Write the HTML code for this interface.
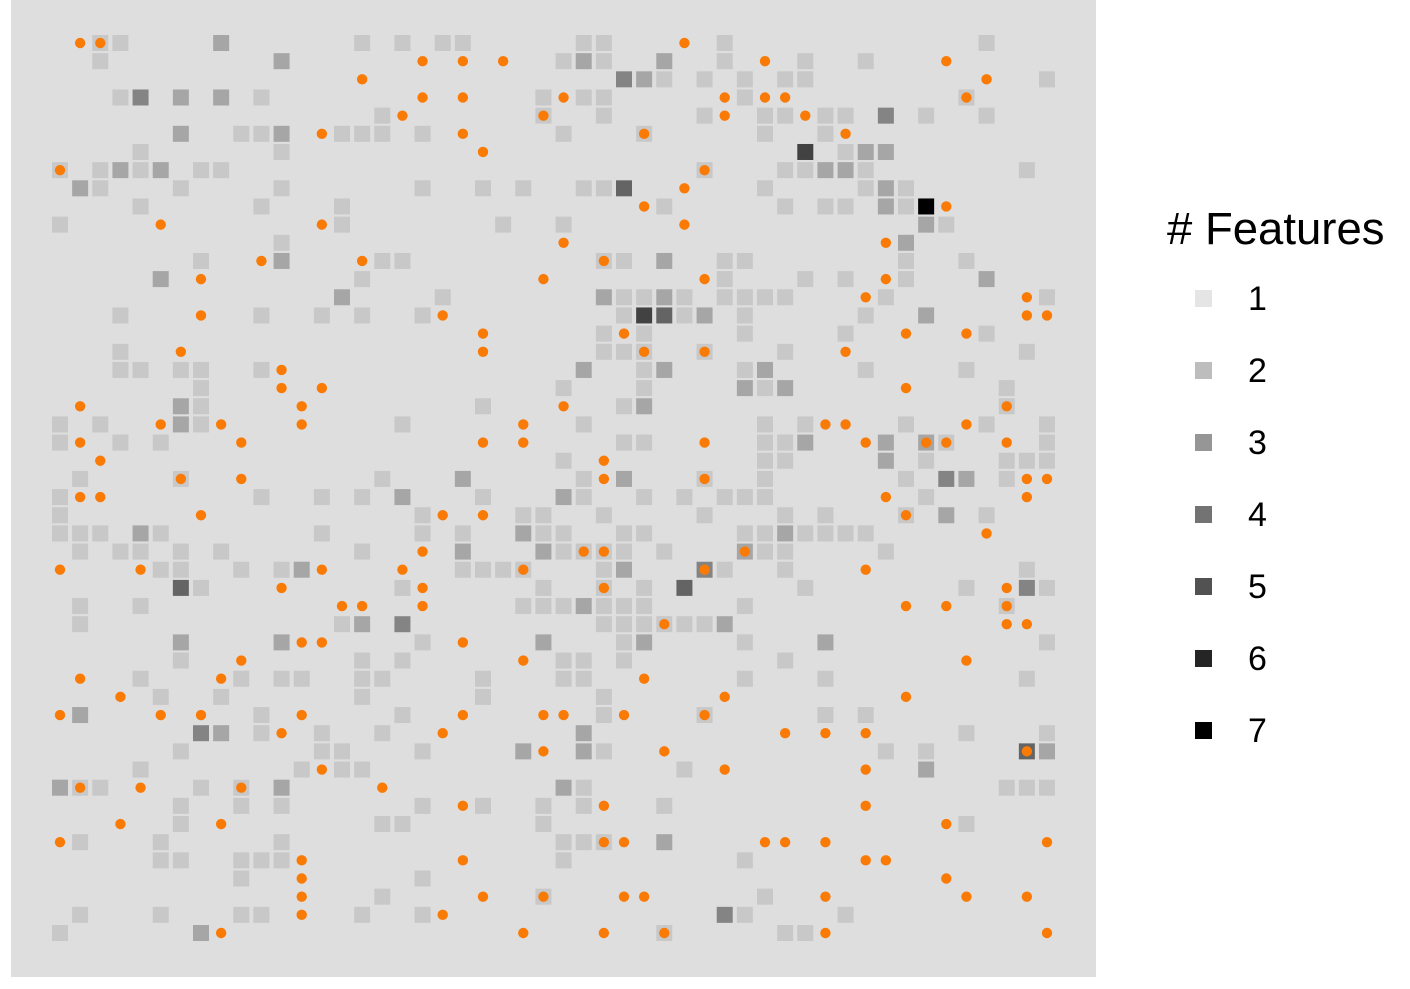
<!DOCTYPE html>
<html><head><meta charset="utf-8">
<style>
html,body{margin:0;padding:0;background:#fff;}
svg{display:block;font-family:"Liberation Sans",Arial,sans-serif;}
</style></head>
<body>
<svg id="chart" width="1410" height="989" viewBox="0 0 1410 989">
  <rect x="11" y="0" width="1085" height="977" fill="#dedede"/>
  <g id="cells"></g>
  <g id="points"></g>
  <g id="legend">
    <text x="1167" y="244" font-size="45.5" fill="#000"># Features</text>
  </g>
</svg>
<script>
// Squares, one row per line: [row, [col, level, col, level, ...]]
const squareRows = [
[0,[2,2,3,2,8,3,15,2,17,2,19,2,20,2,26,2,27,2,33,2,46,2]],
[1,[2,2,11,3,25,2,26,3,27,2,30,3,33,2,37,2,40,2]],
[2,[28,4,29,3,30,2,32,2,34,2,36,2,37,2,49,2]],
[3,[3,2,4,4,6,3,8,3,10,2,24,2,26,2,27,2,34,2,45,2]],
[4,[16,2,24,2,27,2,32,2,35,2,36,2,38,2,39,2,41,4,43,2,46,2]],
[5,[6,3,9,2,10,2,11,3,14,2,15,2,16,2,18,2,25,2,29,2,35,2,38,2]],
[6,[4,2,11,2,37,6,39,2,40,3,41,3]],
[7,[0,2,2,2,3,3,4,2,5,3,7,2,8,2,32,2,36,2,37,2,38,3,39,3,40,2,48,2]],
[8,[1,3,2,2,6,2,11,2,18,2,21,2,23,2,26,2,27,2,28,5,35,2,40,2,41,3,42,2]],
[9,[4,2,10,2,14,2,30,2,36,2,38,2,39,2,41,3,42,2,43,7]],
[10,[0,2,14,2,22,2,25,2,43,3,44,2]],
[11,[11,2,42,3]],
[12,[7,2,11,3,16,2,17,2,27,2,28,2,30,3,33,2,34,2,42,2,45,2]],
[13,[5,3,15,2,33,2,37,2,39,2,42,2,46,3]],
[14,[14,3,19,2,27,3,28,2,29,2,30,3,31,2,33,2,34,2,35,2,36,2,41,2,49,2]],
[15,[3,2,10,2,13,2,15,2,18,2,28,2,29,6,30,5,31,2,32,3,34,2,40,2,43,3]],
[16,[27,2,29,2,34,2,39,2,46,2]],
[17,[3,2,27,2,28,2,29,2,32,2,36,2,48,2]],
[18,[3,2,4,2,6,2,7,2,10,2,26,3,29,2,30,3,34,2,35,3,40,2,45,2]],
[19,[7,2,25,2,29,2,34,3,35,2,36,3,47,2]],
[20,[6,3,7,2,21,2,28,2,29,3,47,2]],
[21,[0,2,2,2,6,3,7,2,17,2,26,2,35,2,37,2,42,2,46,2,49,2]],
[22,[0,2,3,2,5,2,28,2,29,2,35,2,36,2,37,3,41,3,43,3,44,2,49,2]],
[23,[25,2,35,2,36,2,41,3,43,2,47,2,48,2,49,2]],
[24,[1,2,6,2,16,2,20,3,26,2,28,3,32,2,35,2,42,2,44,4,45,3,47,2]],
[25,[0,2,10,2,13,2,15,2,17,3,21,2,25,3,26,2,29,2,31,2,33,2,34,2,35,2,43,2]],
[26,[0,2,18,2,23,2,24,2,27,2,32,2,36,2,38,2,42,2,44,3,46,2]],
[27,[0,2,1,2,2,2,4,3,5,2,13,2,18,2,20,2,23,3,24,2,25,2,28,2,29,2,34,2,35,2,36,3,37,2,38,2,39,2,40,2]],
[28,[1,2,3,2,4,2,6,2,8,2,15,2,20,3,24,3,25,2,26,2,27,2,28,2,30,2,34,3,35,2,36,2,41,2]],
[29,[5,2,6,2,9,2,11,2,12,3,20,2,21,2,22,2,23,2,27,2,28,3,32,4,33,2,36,2,48,2]],
[30,[6,5,7,2,17,2,24,2,27,2,29,2,31,5,37,2,45,2,48,4,49,2]],
[31,[1,2,4,2,23,2,24,2,25,2,26,3,27,2,28,2,29,2,34,2,47,2]],
[32,[1,2,14,2,15,3,17,4,27,2,28,2,29,2,30,2,31,2,32,2,33,3]],
[33,[6,3,11,3,18,2,24,3,28,2,29,3,34,2,38,3,49,2]],
[34,[6,2,15,2,17,2,25,2,26,2,28,2,36,2]],
[35,[4,2,9,2,11,2,12,2,15,2,16,2,21,2,25,2,26,2,34,2,38,2,48,2]],
[36,[5,2,8,2,15,2,21,2,27,2]],
[37,[1,3,10,2,17,2,27,2,32,2,38,2,40,2]],
[38,[7,4,8,3,10,2,13,2,16,2,26,3,45,2,49,2]],
[39,[6,2,13,2,14,2,18,2,23,3,26,3,27,2,41,2,43,2,48,5,49,3]],
[40,[4,2,12,2,14,2,15,2,31,2,43,3]],
[41,[0,3,1,2,2,2,7,2,9,2,11,3,25,3,26,2,47,2,48,2,49,2]],
[42,[6,2,9,2,11,2,18,2,21,2,24,2,26,2,30,2]],
[43,[6,2,16,2,17,2,24,2,45,2]],
[44,[1,2,5,2,11,2,25,2,26,2,27,2,30,3]],
[45,[5,2,6,2,9,2,10,2,11,2,25,2,34,2]],
[46,[9,2,18,2]],
[47,[16,2,24,2,35,2]],
[48,[1,2,5,2,9,2,10,2,15,2,18,2,33,4,34,2,39,2]],
[49,[0,2,7,3,30,2,36,2,37,2]]
];
// Orange points, one row per line: [row, [cols...]]
const pointRows = [
[0,[1,2,31]],[1,[18,20,22,35,44]],[2,[15,46]],[3,[18,20,25,33,35,36,45]],
[4,[17,24,33,37]],[5,[13,20,29,39]],[6,[21]],[7,[0,32]],[8,[31]],[9,[29,44]],
[10,[5,13,31]],[11,[25,41]],[12,[10,15,27]],[13,[7,24,32,41]],[14,[40,48]],
[15,[7,19,48,49]],[16,[21,28,42,45]],[17,[6,21,29,32,39]],[18,[11]],[19,[11,13,42]],
[20,[1,12,25,47]],[21,[5,8,12,23,38,39,45]],[22,[1,9,21,23,32,40,43,44,47]],[23,[2,27]],
[24,[6,9,27,32,48,49]],[25,[1,2,41,48]],[26,[7,19,21,42]],[27,[46]],[28,[18,26,27,34]],
[29,[0,4,13,17,23,32,40]],[30,[11,18,27,47]],[31,[14,15,18,42,44,47]],[32,[30,47,48]],
[33,[12,13,20]],[34,[9,23,45]],[35,[1,8,29]],[36,[3,33,42]],[37,[0,5,7,12,20,24,25,28,32]],
[38,[11,19,36,38,40]],[39,[24,30,48]],[40,[13,33,40]],[41,[1,4,9,16]],[42,[20,27,40]],
[43,[3,8,44]],[44,[0,27,28,35,36,38,49]],[45,[12,20,40,41]],[46,[12,44]],
[47,[12,21,24,28,29,38,45,48]],[48,[12,19]],[49,[8,23,27,30,38,49]]
];
const legendLevels = [1,2,3,4,5,6,7];
const levelColors = ["#e5e5e5","#c8c8c8","#a6a6a6","#848484","#646464","#424242","#000000"];
const legendColors = ["#e5e5e5","#bdbdbd","#969696","#737373","#525252","#252525","#000000"];

const NS = "http://www.w3.org/2000/svg";
function xScale(c){ return 60 + (1047-60)*c/49; }
function yScale(r){ return 43 + (933-43)*r/49; }
const S = 16;

const cells = document.getElementById('cells');
squareRows.forEach(function(rr){
  const row = rr[0], arr = rr[1];
  for (let k=0;k<arr.length;k+=2){
    const col = arr[k], lvl = arr[k+1];
    const r = document.createElementNS(NS,'rect');
    r.setAttribute('x', (xScale(col)-S/2).toFixed(2));
    r.setAttribute('y', (yScale(row)-S/2).toFixed(2));
    r.setAttribute('width', S);
    r.setAttribute('height', S);
    r.setAttribute('fill', levelColors[lvl-1]);
    
    
    cells.appendChild(r);
  }
});

const pts = document.getElementById('points');
pointRows.forEach(function(pr){
  const row = pr[0];
  pr[1].forEach(function(col){
    const c = document.createElementNS(NS,'circle');
    c.setAttribute('cx', xScale(col).toFixed(2));
    c.setAttribute('cy', yScale(row).toFixed(2));
    c.setAttribute('r', 5.2);
    c.setAttribute('fill', '#fa7a06');
    
    
    pts.appendChild(c);
  });
});

const legend = document.getElementById('legend');
legendLevels.forEach(function(lv,i){
  const cy = 298 + 72*i;
  const g = document.createElementNS(NS,'g');
  
  
  const r = document.createElementNS(NS,'rect');
  r.setAttribute('x', 1195); r.setAttribute('y', cy-8);
  r.setAttribute('width', 17); r.setAttribute('height', 17);
  r.setAttribute('fill', legendColors[i]);
  
  
  const t = document.createElementNS(NS,'text');
  t.setAttribute('x', 1248); t.setAttribute('y', cy+12);
  t.setAttribute('font-size', 34);
  t.textContent = String(lv);
  
  
  g.appendChild(r); g.appendChild(t);
  legend.appendChild(g);
});
</script>
</body></html>
